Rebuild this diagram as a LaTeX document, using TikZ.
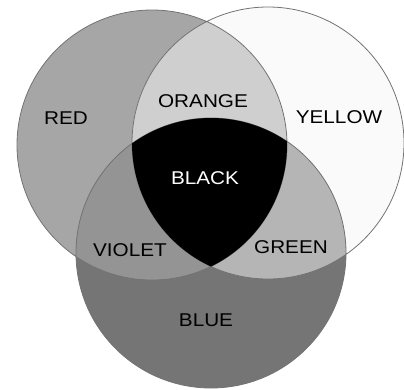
\documentclass[tikz,border=0pt]{standalone}
\usepackage{fontspec}
\setmainfont{Liberation Sans}[FakeStretch=1.12]
\definecolor{redgray}{gray}{0.65}
\definecolor{yellowgray}{gray}{0.98}
\definecolor{bluegray}{gray}{0.46}
\definecolor{orangegray}{gray}{0.81}
\definecolor{violetgray}{gray}{0.58}
\definecolor{greengray}{gray}{0.71}
\definecolor{rimgray}{gray}{0.45}
\begin{document}
\begin{tikzpicture}[x=1pt, y=-1pt,
  rim/.style={draw=rimgray, line width=0.8pt},
  tag/.style={font=\fontsize{18.5}{20}\selectfont, inner sep=0pt}]
  \useasboundingbox (0,0) rectangle (404,389);
  \coordinate (R) at (152,145);
  \coordinate (Y) at (268,143);
  \coordinate (B) at (211,253);
  % primaries
  \fill[redgray] (R) circle (135pt);
  \fill[yellowgray] (Y) circle (136pt);
  \fill[bluegray] (B) circle (135pt);
  % pairwise overlaps
  \begin{scope}
    \clip (R) circle (135pt);
    \fill[orangegray] (Y) circle (136pt);
    \fill[violetgray] (B) circle (135pt);
  \end{scope}
  \begin{scope}
    \clip (Y) circle (136pt);
    \fill[greengray] (B) circle (135pt);
  \end{scope}
  \draw[rim] (R) circle (135pt) (Y) circle (136pt) (B) circle (135pt);
  % all three
  \begin{scope}
    \clip (R) circle (135pt);
    \clip (Y) circle (136pt);
    \fill[black] (B) circle (135pt);
  \end{scope}
  \foreach \name/\x/\y/\txt in {red/66/118/RED, orange/203/101/ORANGE, yellow/339/117/YELLOW,
      violet/130/250/VIOLET, green/291/247/GREEN, blue/206/320/BLUE} {
    \node[tag] (lbl-\name) at (\x,\y) {\txt};
  }
  \node[tag, text=white] (lbl-black) at (205,178) {BLACK};
\end{tikzpicture}
\end{document}
